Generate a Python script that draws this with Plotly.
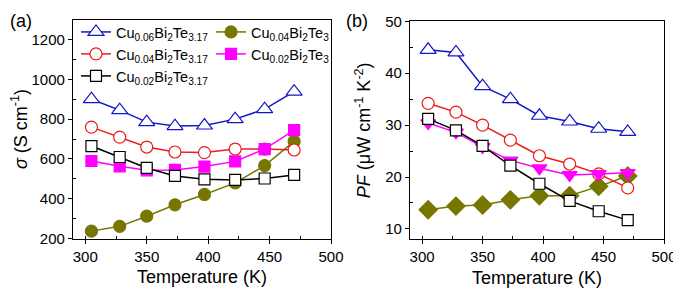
import plotly.graph_objects as go

temperature = [305, 328, 350, 373, 397, 422, 446, 470]

names = ["Cu<sub>0.06</sub>Bi<sub>2</sub>Te<sub>3.17</sub>",
         "Cu<sub>0.04</sub>Bi<sub>2</sub>Te<sub>3</sub>",
         "Cu<sub>0.04</sub>Bi<sub>2</sub>Te<sub>3.17</sub>",
         "Cu<sub>0.02</sub>Bi<sub>2</sub>Te<sub>3</sub>",
         "Cu<sub>0.02</sub>Bi<sub>2</sub>Te<sub>3.17</sub>"]

# panel (a): electrical conductivity (S cm^-1)
sigma_cu006_te317 = [900, 845, 785, 765, 768, 800, 850, 938]
sigma_cu004_te3 = [238, 262, 313, 370, 422, 480, 567, 688]
sigma_cu004_te317 = [760, 710, 660, 635, 632, 650, 650, 645]
sigma_cu002_te3 = [590, 563, 543, 545, 562, 588, 650, 745]
sigma_cu002_te317 = [665, 610, 555, 515, 498, 495, 502, 520]

# panel (b): power factor (uW cm^-1 K^-2)
pf_cu006_te317 = [44.5, 44.0, 37.5, 35.0, 31.8, 30.7, 29.3, 28.7]
pf_cu004_te3 = [13.7, 14.4, 14.6, 15.6, 16.4, 16.4, 18.2, 20.2]
pf_cu004_te317 = [34.2, 32.5, 30.0, 27.1, 24.1, 22.5, 20.6, 17.9]
pf_cu002_te3 = [30.4, 28.6, 25.8, 23.2, 21.7, 20.4, 20.6, 20.8]
pf_cu002_te317 = [31.2, 29.0, 26.0, 22.2, 18.7, 15.4, 13.4, 11.7]

FONT = "Arial, Liberation Sans, sans-serif"
BLUE = "#1414c8"
RED = "#ee1c1c"
MAG = "#ff00ff"
OLIVE = "#767600"
BLACK = "#000000"

# page has an 8px body margin; figure is sized to the remaining window
W, H, OFF = 673, 285, 8


def px(x):
    return (x - OFF) / W


def py(y):
    return 1 - (y - OFF) / H


# (color, symbol, size, filled)
styles = [
    (BLUE, "triangle-up", 14, False),
    (OLIVE, "circle", 12, True),
    (RED, "circle", 12, False),
    (MAG, "square", 11, True),
    (BLACK, "square", 11, False),
]
styles_b = [
    (BLUE, "triangle-up", 14, False),
    (OLIVE, "diamond", 14, True),
    (RED, "circle", 12, False),
    (MAG, "triangle-down", 13, True),
    (BLACK, "square", 11, False),
]
legend_ids = ["legend", "legend2", "legend3", "legend4", "legend5"]
# legend item positions (text start x, row centre y) in reference pixels
legend_pos = [(116, 32), (251, 32), (116, 54), (251, 54), (116, 76)]

fig = go.Figure()
sig = [sigma_cu006_te317, sigma_cu004_te3, sigma_cu004_te317, sigma_cu002_te3, sigma_cu002_te317]
pfs = [pf_cu006_te317, pf_cu004_te3, pf_cu004_te317, pf_cu002_te3, pf_cu002_te317]


def marker(st):
    color, symbol, size, filled = st
    return dict(symbol=symbol, size=size, color=color if filled else "white",
                line=dict(color=color, width=1.2))


for i in range(5):
    fig.add_trace(go.Scatter(
        x=temperature, y=sig[i], name=names[i], mode="lines+markers",
        line=dict(color=styles[i][0], width=1.5), marker=marker(styles[i]),
        legend=legend_ids[i], xaxis="x", yaxis="y"))

for i in range(5):
    fig.add_trace(go.Scatter(
        x=temperature, y=pfs[i], name=names[i], mode="lines+markers", showlegend=False,
        line=dict(color=styles_b[i][0], width=1.5), marker=marker(styles_b[i]),
        xaxis="x2", yaxis="y2"))

axis_common = dict(showline=True, linecolor="black", linewidth=1.3, mirror=True,
                   ticks="outside", ticklen=4, tickwidth=1.2, tickcolor="black",
                   showgrid=False, zeroline=False, automargin=False,
                   tickfont=dict(family=FONT, size=15, color="black"))
minor_common = dict(ticks="inside", ticklen=3, tickwidth=1, tickcolor="black", showgrid=False)
title_font = dict(family=FONT, size=18, color="black")

layout = dict(
    width=W, height=H,
    margin=dict(l=0, r=0, t=0, b=0, autoexpand=False),
    paper_bgcolor="white", plot_bgcolor="white",
    font=dict(family=FONT, color="black"),
    xaxis=dict(domain=[px(73), px(331)], range=[290, 500], dtick=50, anchor="y",
               title=dict(text="Temperature (K)", font=title_font, standoff=6),
               minor=dict(dtick=25, **minor_common), **axis_common),
    yaxis=dict(domain=[py(238.7), py(19.5)], range=[200, 1300], tickvals=[200, 400, 600, 800, 1000, 1200], anchor="x",
               title=dict(text="<i>σ</i> (S cm<sup>-1</sup>)", font=title_font, standoff=3),
               minor=dict(tickvals=[300, 500, 700, 900, 1100], **minor_common), **axis_common),
    xaxis2=dict(domain=[px(410), px(664)], range=[290, 500], dtick=50, anchor="y2",
                title=dict(text="Temperature (K)", font=title_font, standoff=6),
                minor=dict(dtick=25, **minor_common), **axis_common),
    yaxis2=dict(domain=[py(239.3), py(21.3)], range=[8, 50], tickvals=[10, 20, 30, 40, 50], anchor="x2",
                title=dict(text="<i>PF</i> (μW cm<sup>-1</sup> K<sup>-2</sup>)", font=title_font, standoff=9),
                minor=dict(tickvals=[15, 25, 35, 45], **minor_common), **axis_common),
    annotations=[
        dict(text="(a)", x=px(8), y=py(9), xref="paper", yref="paper", showarrow=False,
             xanchor="left", yanchor="top", font=dict(family=FONT, size=18, color="black")),
        dict(text="(b)", x=px(344), y=py(9), xref="paper", yref="paper", showarrow=False,
             xanchor="left", yanchor="top", font=dict(family=FONT, size=18, color="black")),
    ],
)
for lid, (tx, ty) in zip(legend_ids, legend_pos):
    layout[lid] = dict(x=px(tx - 40), y=py(ty), xanchor="left", yanchor="middle",
                       bgcolor="rgba(0,0,0,0)", borderwidth=0,
                       font=dict(family=FONT, size=14.5, color="black"))

fig.update_layout(**layout)

fig.write_html("out.html")
